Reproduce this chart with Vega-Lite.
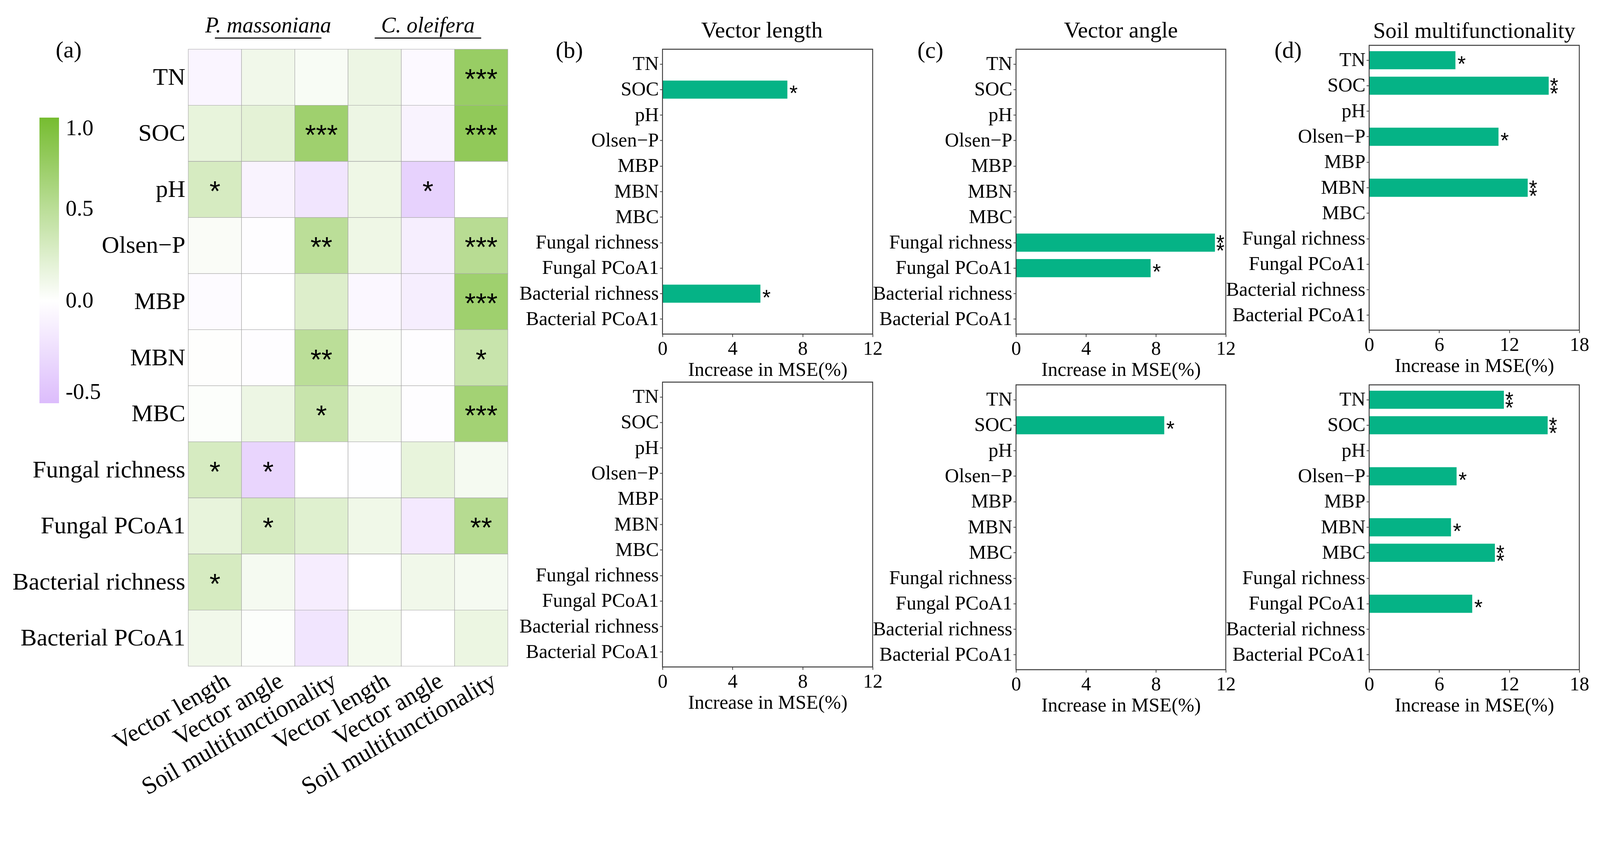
{
 "$schema": "https://vega.github.io/schema/vega-lite/v6.json",
 "autosize": {"type": "pad"},
 "padding": {"left": 31, "top": 37, "right": 0, "bottom": 0},
 "background": "white",
 "config": {
  "font": "Liberation Serif",
  "view": {"stroke": null},
  "axis": {"labelFont": "Liberation Serif", "titleFont": "Liberation Serif", "labelColor": "black", "titleColor": "black", "titleFontWeight": "normal", "grid": false},
  "title": {"font": "Liberation Serif", "fontWeight": "normal", "color": "black"}
 },
 "datasets": {
  "heat": [
   {"var":"TN","col":"PM: Vector length","r":-0.08,"sig":""},
   {"var":"TN","col":"PM: Vector angle","r":0.10,"sig":""},
   {"var":"TN","col":"PM: Soil multifunctionality","r":0.05,"sig":""},
   {"var":"TN","col":"CO: Vector length","r":0.13,"sig":""},
   {"var":"TN","col":"CO: Vector angle","r":-0.05,"sig":""},
   {"var":"TN","col":"CO: Soil multifunctionality","r":0.75,"sig":"***"},
   {"var":"SOC","col":"PM: Vector length","r":0.17,"sig":""},
   {"var":"SOC","col":"PM: Vector angle","r":0.2,"sig":""},
   {"var":"SOC","col":"PM: Soil multifunctionality","r":0.7,"sig":"***"},
   {"var":"SOC","col":"CO: Vector length","r":0.13,"sig":""},
   {"var":"SOC","col":"CO: Vector angle","r":-0.1,"sig":""},
   {"var":"SOC","col":"CO: Soil multifunctionality","r":0.8,"sig":"***"},
   {"var":"pH","col":"PM: Vector length","r":0.3,"sig":"*"},
   {"var":"pH","col":"PM: Vector angle","r":-0.1,"sig":""},
   {"var":"pH","col":"PM: Soil multifunctionality","r":-0.22,"sig":""},
   {"var":"pH","col":"CO: Vector length","r":0.12,"sig":""},
   {"var":"pH","col":"CO: Vector angle","r":-0.38,"sig":"*"},
   {"var":"pH","col":"CO: Soil multifunctionality","r":0.0,"sig":""},
   {"var":"Olsen−P","col":"PM: Vector length","r":0.04,"sig":""},
   {"var":"Olsen−P","col":"PM: Vector angle","r":-0.02,"sig":""},
   {"var":"Olsen−P","col":"PM: Soil multifunctionality","r":0.5,"sig":"**"},
   {"var":"Olsen−P","col":"CO: Vector length","r":0.12,"sig":""},
   {"var":"Olsen−P","col":"CO: Vector angle","r":-0.14,"sig":""},
   {"var":"Olsen−P","col":"CO: Soil multifunctionality","r":0.52,"sig":"***"},
   {"var":"MBP","col":"PM: Vector length","r":-0.03,"sig":""},
   {"var":"MBP","col":"PM: Vector angle","r":0.0,"sig":""},
   {"var":"MBP","col":"PM: Soil multifunctionality","r":0.25,"sig":""},
   {"var":"MBP","col":"CO: Vector length","r":-0.07,"sig":""},
   {"var":"MBP","col":"CO: Vector angle","r":-0.14,"sig":""},
   {"var":"MBP","col":"CO: Soil multifunctionality","r":0.7,"sig":"***"},
   {"var":"MBN","col":"PM: Vector length","r":0.01,"sig":""},
   {"var":"MBN","col":"PM: Vector angle","r":-0.02,"sig":""},
   {"var":"MBN","col":"PM: Soil multifunctionality","r":0.5,"sig":"**"},
   {"var":"MBN","col":"CO: Vector length","r":0.03,"sig":""},
   {"var":"MBN","col":"CO: Vector angle","r":-0.02,"sig":""},
   {"var":"MBN","col":"CO: Soil multifunctionality","r":0.4,"sig":"*"},
   {"var":"MBC","col":"PM: Vector length","r":0.02,"sig":""},
   {"var":"MBC","col":"PM: Vector angle","r":0.13,"sig":""},
   {"var":"MBC","col":"PM: Soil multifunctionality","r":0.4,"sig":"*"},
   {"var":"MBC","col":"CO: Vector length","r":0.08,"sig":""},
   {"var":"MBC","col":"CO: Vector angle","r":-0.02,"sig":""},
   {"var":"MBC","col":"CO: Soil multifunctionality","r":0.67,"sig":"***"},
   {"var":"Fungal richness","col":"PM: Vector length","r":0.3,"sig":"*"},
   {"var":"Fungal richness","col":"PM: Vector angle","r":-0.35,"sig":"*"},
   {"var":"Fungal richness","col":"PM: Soil multifunctionality","r":0.0,"sig":""},
   {"var":"Fungal richness","col":"CO: Vector length","r":-0.01,"sig":""},
   {"var":"Fungal richness","col":"CO: Vector angle","r":0.17,"sig":""},
   {"var":"Fungal richness","col":"CO: Soil multifunctionality","r":0.07,"sig":""},
   {"var":"Fungal PCoA1","col":"PM: Vector length","r":0.17,"sig":""},
   {"var":"Fungal PCoA1","col":"PM: Vector angle","r":0.3,"sig":"*"},
   {"var":"Fungal PCoA1","col":"PM: Soil multifunctionality","r":0.23,"sig":""},
   {"var":"Fungal PCoA1","col":"CO: Vector length","r":0.11,"sig":""},
   {"var":"Fungal PCoA1","col":"CO: Vector angle","r":-0.18,"sig":""},
   {"var":"Fungal PCoA1","col":"CO: Soil multifunctionality","r":0.53,"sig":"**"},
   {"var":"Bacterial richness","col":"PM: Vector length","r":0.3,"sig":"*"},
   {"var":"Bacterial richness","col":"PM: Vector angle","r":0.07,"sig":""},
   {"var":"Bacterial richness","col":"PM: Soil multifunctionality","r":-0.15,"sig":""},
   {"var":"Bacterial richness","col":"CO: Vector length","r":0.0,"sig":""},
   {"var":"Bacterial richness","col":"CO: Vector angle","r":0.1,"sig":""},
   {"var":"Bacterial richness","col":"CO: Soil multifunctionality","r":0.07,"sig":""},
   {"var":"Bacterial PCoA1","col":"PM: Vector length","r":0.1,"sig":""},
   {"var":"Bacterial PCoA1","col":"PM: Vector angle","r":0.02,"sig":""},
   {"var":"Bacterial PCoA1","col":"PM: Soil multifunctionality","r":-0.22,"sig":""},
   {"var":"Bacterial PCoA1","col":"CO: Vector length","r":0.08,"sig":""},
   {"var":"Bacterial PCoA1","col":"CO: Vector angle","r":0.0,"sig":""},
   {"var":"Bacterial PCoA1","col":"CO: Soil multifunctionality","r":0.14,"sig":""}
  ],
  "heads": [
   {"col":"PM: Vector angle","label":"P. massoniana"},
   {"col":"CO: Vector angle","label":"C. oleifera"}
  ],
  "lines": [
   {"col":"PM: Vector length","col2":"PM: Soil multifunctionality"},
   {"col":"CO: Vector length","col2":"CO: Soil multifunctionality"}
  ],
  "frame": [{"x0": 0, "x1": 1, "y0": 0, "y1": 1}],
  "bars": [
   {"panel":"b1","var":"SOC","value":7.13,"sig":"*"},
   {"panel":"b1","var":"Bacterial richness","value":5.59,"sig":"*"},
   {"panel":"c1","var":"Fungal richness","value":11.38,"sig":"**"},
   {"panel":"c1","var":"Fungal PCoA1","value":7.7,"sig":"*"},
   {"panel":"d1","var":"TN","value":7.39,"sig":"*"},
   {"panel":"d1","var":"SOC","value":15.38,"sig":"**"},
   {"panel":"d1","var":"Olsen−P","value":11.08,"sig":"*"},
   {"panel":"d1","var":"MBN","value":13.58,"sig":"**"},
   {"panel":"c2","var":"SOC","value":8.48,"sig":"*"},
   {"panel":"d2","var":"TN","value":11.54,"sig":"**"},
   {"panel":"d2","var":"SOC","value":15.29,"sig":"**"},
   {"panel":"d2","var":"Olsen−P","value":7.49,"sig":"*"},
   {"panel":"d2","var":"MBN","value":7.01,"sig":"*"},
   {"panel":"d2","var":"MBC","value":10.77,"sig":"**"},
   {"panel":"d2","var":"Fungal PCoA1","value":8.83,"sig":"*"}
  ]
 },
 "bounds": "flush",
 "spacing": 367,
 "hconcat": [
  {
   "width": 818, "height": 1579,
   "resolve": {"scale": {"y": "independent"}, "axis": {"y": "independent"}},
   "layer": [
    {
     "data": {"name": "heat"},
     "layer": [
      {
       "mark": {"type": "rect", "stroke": "#a6a6a6", "strokeWidth": 1.1},
       "encoding": {
        "x": {"field": "col", "type": "nominal", "scale": {"domain": ["PM: Vector length","PM: Vector angle","PM: Soil multifunctionality","CO: Vector length","CO: Vector angle","CO: Soil multifunctionality"], "paddingInner": 0, "paddingOuter": 0},
         "axis": {"orient": "bottom", "labelAngle": -30, "labelAlign": "right", "labelBaseline": "top", "labelFontSize": 62, "labelOffset": 18, "labelPadding": 6, "ticks": false, "domain": false, "title": null, "labelLimit": 0, "labelExpr": "split(datum.label, ': ')[1]"}},
        "y": {"field": "var", "type": "nominal", "scale": {"domain": ["TN","SOC","pH","Olsen−P","MBP","MBN","MBC","Fungal richness","Fungal PCoA1","Bacterial richness","Bacterial PCoA1"], "paddingInner": 0, "paddingOuter": 0},
         "axis": {"orient": "left", "ticks": false, "domain": false, "labelFontSize": 62, "labelPadding": 8, "labelLimit": 0, "title": "(a)", "titleAngle": 0, "titleX": -340, "titleY": 2, "titleAlign": "left", "titleBaseline": "middle", "titleFontSize": 60}},
        "color": {"field": "r", "type": "quantitative",
         "scale": {"domain": [-0.56, 0, 1], "range": ["#dcbcfc", "#ffffff", "#76bc30"], "interpolate": "rgb"},
         "legend": {"orient": "none", "legendX": -381, "legendY": 175, "direction": "vertical", "gradientLength": 731, "gradientThickness": 50, "values": [1, 0.5, 0, -0.5], "title": null, "labelFontSize": 57, "labelFont": "Liberation Serif", "labelOffset": 17, "labelBaseline": "middle", "labelColor": "black", "labelOverlap": false, "gradientStrokeWidth": 0, "labelExpr": "replace(format(datum.value, '.1f'), '−', '-')"}}
       }
      },
      {
       "mark": {"type": "text", "font": "Liberation Sans", "fontSize": 72, "baseline": "middle", "dy": 7},
       "encoding": {
        "x": {"field": "col", "type": "nominal", "scale": {"domain": ["PM: Vector length","PM: Vector angle","PM: Soil multifunctionality","CO: Vector length","CO: Vector angle","CO: Soil multifunctionality"]}},
        "y": {"field": "var", "type": "nominal", "scale": {"domain": ["TN","SOC","pH","Olsen−P","MBP","MBN","MBC","Fungal richness","Fungal PCoA1","Bacterial richness","Bacterial PCoA1"]}},
        "text": {"field": "sig"}
       }
      }
     ]
    },
    {
     "layer": [
      {
       "data": {"name": "heads"},
       "mark": {"type": "text", "font": "Liberation Serif", "fontStyle": "italic", "fontSize": 56, "baseline": "alphabetic", "align": "center"},
       "encoding": {
        "x": {"field": "col", "type": "nominal", "scale": {"domain": ["PM: Vector length","PM: Vector angle","PM: Soil multifunctionality","CO: Vector length","CO: Vector angle","CO: Soil multifunctionality"]}},
        "y": {"datum": 1.0275, "type": "quantitative", "scale": {"domain": [0, 1], "nice": false, "zero": false}, "axis": null},
        "text": {"field": "label"}
       }
      },
      {
       "data": {"name": "lines"},
       "mark": {"type": "rule", "strokeWidth": 2.8, "color": "black"},
       "encoding": {
        "x": {"field": "col", "type": "nominal", "scale": {"domain": ["PM: Vector length","PM: Vector angle","PM: Soil multifunctionality","CO: Vector length","CO: Vector angle","CO: Soil multifunctionality"]}},
        "x2": {"field": "col2"},
        "y": {"datum": 1.0181, "type": "quantitative", "scale": {"domain": [0, 1], "nice": false, "zero": false}, "axis": null}
       }
      }
     ]
    }
   ]
  },
  {
   "width": 567, "height": 1588,
   "title": {"text": "Vector length", "fontSize": 58, "baseline": "alphabetic", "offset": -55},
   "resolve": {"scale": {"x": "independent", "y": "independent"}, "axis": {"x": "independent", "y": "independent"}},
   "layer": [
    {
     "data": {"name": "bars"},
     "transform": [{"filter": "datum.panel == 'b1'"}],
     "encoding": {
      "y": {"field": "var", "type": "nominal", "scale": {"domain": ["TN","SOC","pH","Olsen−P","MBP","MBN","MBC","Fungal richness","Fungal PCoA1","Bacterial richness","Bacterial PCoA1"], "range": [0, 729], "paddingInner": 0.29, "paddingOuter": 0.23},
       "axis": {"orient": "left", "offset": -29, "title": "(b)", "titleAngle": 0, "titleX": -274, "titleY": 3, "titleAlign": "left", "titleBaseline": "middle", "titleFontSize": 60, "labelFontSize": 50, "tickSize": 7, "tickColor": "#333", "tickWidth": 1.85, "labelPadding": 3, "domain": false, "labelLimit": 0}},
      "x": {"field": "value", "type": "quantitative", "scale": {"domain": [0, 12], "range": [29, 567], "nice": false},
       "axis": {"orient": "bottom", "offset": -859, "values": [0, 4, 8, 12], "format": "d", "title": "Increase in MSE(%)", "labelFontSize": 50, "titleFontSize": 50, "tickSize": 7, "tickColor": "#333", "tickWidth": 1.85, "domain": false, "labelPadding": 5, "titlePadding": 4, "labelFlush": false}}
     },
     "layer": [
      {"mark": {"type": "bar", "color": "#05b386"}},
      {"transform": [{"filter": "datum.sig == '*'"}], "mark": {"type": "text", "text": "*", "font": "Liberation Sans", "fontSize": 55, "align": "left", "baseline": "middle", "dx": 5, "dy": 11}},
      {"transform": [{"filter": "datum.sig == '**'"}], "mark": {"type": "text", "text": "*", "font": "Liberation Sans", "fontSize": 55, "align": "left", "baseline": "middle", "dx": 3, "dy": 2}},
      {"transform": [{"filter": "datum.sig == '**'"}], "mark": {"type": "text", "text": "*", "font": "Liberation Sans", "fontSize": 55, "align": "left", "baseline": "middle", "dx": 3, "dy": 22}},
      {"data": {"values": [{"species": "P. massoniana"}]}, "mark": {"type": "text", "font": "Liberation Serif", "fontStyle": "italic", "fontSize": 56, "align": "center", "baseline": "middle"},
       "encoding": {"x": {"datum": 6}, "y": {"datum": "Bacterial PCoA1"}, "text": {"field": "species"}}}
     ]
    },
    {
     "data": {"name": "frame"},
     "mark": {"type": "rect", "fill": "transparent", "stroke": "#3a3a3a", "strokeWidth": 2.3},
     "encoding": {
      "x": {"field": "x0", "type": "quantitative", "scale": {"domain": [0, 1], "range": [29, 567], "nice": false, "zero": false}, "axis": null},
      "x2": {"field": "x1"},
      "y": {"field": "y0", "type": "quantitative", "scale": {"domain": [0, 1], "range": [0, 729], "nice": false, "zero": false}, "axis": null},
      "y2": {"field": "y1"}
     }
    },
    {
     "data": {"name": "bars"},
     "transform": [{"filter": "datum.panel == 'b2'"}],
     "encoding": {
      "y": {"field": "var", "type": "nominal", "scale": {"domain": ["TN","SOC","pH","Olsen−P","MBP","MBN","MBC","Fungal richness","Fungal PCoA1","Bacterial richness","Bacterial PCoA1"], "range": [852, 1581], "paddingInner": 0.29, "paddingOuter": 0.23},
       "axis": {"orient": "left", "offset": -29, "title": null, "labelFontSize": 50, "tickSize": 7, "tickColor": "#333", "tickWidth": 1.85, "labelPadding": 3, "domain": false, "labelLimit": 0}},
      "x": {"field": "value", "type": "quantitative", "scale": {"domain": [0, 12], "range": [29, 567], "nice": false},
       "axis": {"orient": "bottom", "offset": -7, "values": [0, 4, 8, 12], "format": "d", "title": "Increase in MSE(%)", "labelFontSize": 50, "titleFontSize": 50, "tickSize": 7, "tickColor": "#333", "tickWidth": 1.85, "domain": false, "labelPadding": 5, "titlePadding": 4, "labelFlush": false}}
     },
     "layer": [
      {"mark": {"type": "bar", "color": "#05b386"}},
      {"data": {"values": [{"species": "C. oleifera"}]}, "mark": {"type": "text", "font": "Liberation Serif", "fontStyle": "italic", "fontSize": 56, "align": "center", "baseline": "middle"},
       "encoding": {"x": {"datum": 6}, "y": {"datum": "Bacterial PCoA1"}, "text": {"field": "species"}}}
     ]
    },
    {
     "data": {"name": "frame"},
     "mark": {"type": "rect", "fill": "transparent", "stroke": "#3a3a3a", "strokeWidth": 2.3},
     "encoding": {
      "x": {"field": "x0", "type": "quantitative", "scale": {"domain": [0, 1], "range": [29, 567], "nice": false, "zero": false}, "axis": null},
      "x2": {"field": "x1"},
      "y": {"field": "y0", "type": "quantitative", "scale": {"domain": [0, 1], "range": [852, 1581], "nice": false, "zero": false}, "axis": null},
      "y2": {"field": "y1"}
     }
    }
   ]
  },
  {
   "width": 537, "height": 1588,
   "title": {"text": "Vector angle", "fontSize": 58, "baseline": "alphabetic", "offset": -55},
   "resolve": {"scale": {"x": "independent", "y": "independent"}, "axis": {"x": "independent", "y": "independent"}},
   "layer": [
    {
     "data": {"name": "bars"},
     "transform": [{"filter": "datum.panel == 'c1'"}],
     "encoding": {
      "y": {"field": "var", "type": "nominal", "scale": {"domain": ["TN","SOC","pH","Olsen−P","MBP","MBN","MBC","Fungal richness","Fungal PCoA1","Bacterial richness","Bacterial PCoA1"], "range": [0, 729], "paddingInner": 0.29, "paddingOuter": 0.23},
       "axis": {"orient": "left", "title": "(c)", "titleAngle": 0, "titleX": -253, "titleY": 3, "titleAlign": "left", "titleBaseline": "middle", "titleFontSize": 60, "labelFontSize": 50, "tickSize": 7, "tickColor": "#333", "tickWidth": 1.85, "labelPadding": 3, "domain": false, "labelLimit": 0}},
      "x": {"field": "value", "type": "quantitative", "scale": {"domain": [0, 12], "nice": false},
       "axis": {"orient": "bottom", "offset": -859, "values": [0, 4, 8, 12], "format": "d", "title": "Increase in MSE(%)", "labelFontSize": 50, "titleFontSize": 50, "tickSize": 7, "tickColor": "#333", "tickWidth": 1.85, "domain": false, "labelPadding": 5, "titlePadding": 4, "labelFlush": false}}
     },
     "layer": [
      {"mark": {"type": "bar", "color": "#05b386"}},
      {"transform": [{"filter": "datum.sig == '*'"}], "mark": {"type": "text", "text": "*", "font": "Liberation Sans", "fontSize": 55, "align": "left", "baseline": "middle", "dx": 5, "dy": 11}},
      {"transform": [{"filter": "datum.sig == '**'"}], "mark": {"type": "text", "text": "*", "font": "Liberation Sans", "fontSize": 55, "align": "left", "baseline": "middle", "dx": 3, "dy": 2}},
      {"transform": [{"filter": "datum.sig == '**'"}], "mark": {"type": "text", "text": "*", "font": "Liberation Sans", "fontSize": 55, "align": "left", "baseline": "middle", "dx": 3, "dy": 22}},
      {"data": {"values": [{"species": "P. massoniana"}]}, "mark": {"type": "text", "font": "Liberation Serif", "fontStyle": "italic", "fontSize": 56, "align": "center", "baseline": "middle"},
       "encoding": {"x": {"datum": 6}, "y": {"datum": "Bacterial PCoA1"}, "text": {"field": "species"}}}
     ]
    },
    {
     "data": {"name": "frame"},
     "mark": {"type": "rect", "fill": "transparent", "stroke": "#3a3a3a", "strokeWidth": 2.3},
     "encoding": {
      "x": {"field": "x0", "type": "quantitative", "scale": {"domain": [0, 1], "nice": false, "zero": false}, "axis": null},
      "x2": {"field": "x1"},
      "y": {"field": "y0", "type": "quantitative", "scale": {"domain": [0, 1], "range": [0, 729], "nice": false, "zero": false}, "axis": null},
      "y2": {"field": "y1"}
     }
    },
    {
     "data": {"name": "bars"},
     "transform": [{"filter": "datum.panel == 'c2'"}],
     "encoding": {
      "y": {"field": "var", "type": "nominal", "scale": {"domain": ["TN","SOC","pH","Olsen−P","MBP","MBN","MBC","Fungal richness","Fungal PCoA1","Bacterial richness","Bacterial PCoA1"], "range": [859, 1588], "paddingInner": 0.29, "paddingOuter": 0.23},
       "axis": {"orient": "left", "title": null, "labelFontSize": 50, "tickSize": 7, "tickColor": "#333", "tickWidth": 1.85, "labelPadding": 3, "domain": false, "labelLimit": 0}},
      "x": {"field": "value", "type": "quantitative", "scale": {"domain": [0, 12], "nice": false},
       "axis": {"orient": "bottom", "values": [0, 4, 8, 12], "format": "d", "title": "Increase in MSE(%)", "labelFontSize": 50, "titleFontSize": 50, "tickSize": 7, "tickColor": "#333", "tickWidth": 1.85, "domain": false, "labelPadding": 5, "titlePadding": 4, "labelFlush": false}}
     },
     "layer": [
      {"mark": {"type": "bar", "color": "#05b386"}},
      {"transform": [{"filter": "datum.sig == '*'"}], "mark": {"type": "text", "text": "*", "font": "Liberation Sans", "fontSize": 55, "align": "left", "baseline": "middle", "dx": 5, "dy": 11}},
      {"data": {"values": [{"species": "C. oleifera"}]}, "mark": {"type": "text", "font": "Liberation Serif", "fontStyle": "italic", "fontSize": 56, "align": "center", "baseline": "middle"},
       "encoding": {"x": {"datum": 6}, "y": {"datum": "Bacterial PCoA1"}, "text": {"field": "species"}}}
     ]
    },
    {
     "data": {"name": "frame"},
     "mark": {"type": "rect", "fill": "transparent", "stroke": "#3a3a3a", "strokeWidth": 2.3},
     "encoding": {
      "x": {"field": "x0", "type": "quantitative", "scale": {"domain": [0, 1], "nice": false, "zero": false}, "axis": null},
      "x2": {"field": "x1"},
      "y": {"field": "y0", "type": "quantitative", "scale": {"domain": [0, 1], "range": [859, 1588], "nice": false, "zero": false}, "axis": null},
      "y2": {"field": "y1"}
     }
    }
   ]
  },
  {
   "width": 538, "height": 1588,
   "title": {"text": "Soil multifunctionality", "fontSize": 57, "baseline": "alphabetic", "offset": -55},
   "resolve": {"scale": {"x": "independent", "y": "independent"}, "axis": {"x": "independent", "y": "independent"}},
   "layer": [
    {
     "data": {"name": "bars"},
     "transform": [{"filter": "datum.panel == 'd1'"}],
     "encoding": {
      "y": {"field": "var", "type": "nominal", "scale": {"domain": ["TN","SOC","pH","Olsen−P","MBP","MBN","MBC","Fungal richness","Fungal PCoA1","Bacterial richness","Bacterial PCoA1"], "range": [-10, 719], "paddingInner": 0.29, "paddingOuter": 0.23},
       "axis": {"orient": "left", "title": "(d)", "titleAngle": 0, "titleX": -243, "titleY": 3, "titleAlign": "left", "titleBaseline": "middle", "titleFontSize": 60, "labelFontSize": 50, "tickSize": 7, "tickColor": "#333", "tickWidth": 1.85, "labelPadding": 3, "domain": false, "labelLimit": 0}},
      "x": {"field": "value", "type": "quantitative", "scale": {"domain": [0, 18], "nice": false},
       "axis": {"orient": "bottom", "offset": -869, "values": [0, 6, 12, 18], "format": "d", "title": "Increase in MSE(%)", "labelFontSize": 50, "titleFontSize": 50, "tickSize": 7, "tickColor": "#333", "tickWidth": 1.85, "domain": false, "labelPadding": 5, "titlePadding": 4, "labelFlush": false}}
     },
     "layer": [
      {"mark": {"type": "bar", "color": "#05b386"}},
      {"transform": [{"filter": "datum.sig == '*'"}], "mark": {"type": "text", "text": "*", "font": "Liberation Sans", "fontSize": 55, "align": "left", "baseline": "middle", "dx": 5, "dy": 11}},
      {"transform": [{"filter": "datum.sig == '**'"}], "mark": {"type": "text", "text": "*", "font": "Liberation Sans", "fontSize": 55, "align": "left", "baseline": "middle", "dx": 3, "dy": 2}},
      {"transform": [{"filter": "datum.sig == '**'"}], "mark": {"type": "text", "text": "*", "font": "Liberation Sans", "fontSize": 55, "align": "left", "baseline": "middle", "dx": 3, "dy": 22}},
      {"data": {"values": [{"species": "P. massoniana"}]}, "mark": {"type": "text", "font": "Liberation Serif", "fontStyle": "italic", "fontSize": 56, "align": "center", "baseline": "middle"},
       "encoding": {"x": {"datum": 9}, "y": {"datum": "Bacterial PCoA1"}, "text": {"field": "species"}}}
     ]
    },
    {
     "data": {"name": "frame"},
     "mark": {"type": "rect", "fill": "transparent", "stroke": "#3a3a3a", "strokeWidth": 2.3},
     "encoding": {
      "x": {"field": "x0", "type": "quantitative", "scale": {"domain": [0, 1], "nice": false, "zero": false}, "axis": null},
      "x2": {"field": "x1"},
      "y": {"field": "y0", "type": "quantitative", "scale": {"domain": [0, 1], "range": [-10, 719], "nice": false, "zero": false}, "axis": null},
      "y2": {"field": "y1"}
     }
    },
    {
     "data": {"name": "bars"},
     "transform": [{"filter": "datum.panel == 'd2'"}],
     "encoding": {
      "y": {"field": "var", "type": "nominal", "scale": {"domain": ["TN","SOC","pH","Olsen−P","MBP","MBN","MBC","Fungal richness","Fungal PCoA1","Bacterial richness","Bacterial PCoA1"], "range": [859, 1588], "paddingInner": 0.29, "paddingOuter": 0.23},
       "axis": {"orient": "left", "title": null, "labelFontSize": 50, "tickSize": 7, "tickColor": "#333", "tickWidth": 1.85, "labelPadding": 3, "domain": false, "labelLimit": 0}},
      "x": {"field": "value", "type": "quantitative", "scale": {"domain": [0, 18], "nice": false},
       "axis": {"orient": "bottom", "values": [0, 6, 12, 18], "format": "d", "title": "Increase in MSE(%)", "labelFontSize": 50, "titleFontSize": 50, "tickSize": 7, "tickColor": "#333", "tickWidth": 1.85, "domain": false, "labelPadding": 5, "titlePadding": 4, "labelFlush": false}}
     },
     "layer": [
      {"mark": {"type": "bar", "color": "#05b386"}},
      {"transform": [{"filter": "datum.sig == '*'"}], "mark": {"type": "text", "text": "*", "font": "Liberation Sans", "fontSize": 55, "align": "left", "baseline": "middle", "dx": 5, "dy": 11}},
      {"transform": [{"filter": "datum.sig == '**'"}], "mark": {"type": "text", "text": "*", "font": "Liberation Sans", "fontSize": 55, "align": "left", "baseline": "middle", "dx": 3, "dy": 2}},
      {"transform": [{"filter": "datum.sig == '**'"}], "mark": {"type": "text", "text": "*", "font": "Liberation Sans", "fontSize": 55, "align": "left", "baseline": "middle", "dx": 3, "dy": 22}},
      {"data": {"values": [{"species": "C. oleifera"}]}, "mark": {"type": "text", "font": "Liberation Serif", "fontStyle": "italic", "fontSize": 56, "align": "center", "baseline": "middle"},
       "encoding": {"x": {"datum": 9}, "y": {"datum": "Bacterial PCoA1"}, "text": {"field": "species"}}}
     ]
    },
    {
     "data": {"name": "frame"},
     "mark": {"type": "rect", "fill": "transparent", "stroke": "#3a3a3a", "strokeWidth": 2.3},
     "encoding": {
      "x": {"field": "x0", "type": "quantitative", "scale": {"domain": [0, 1], "nice": false, "zero": false}, "axis": null},
      "x2": {"field": "x1"},
      "y": {"field": "y0", "type": "quantitative", "scale": {"domain": [0, 1], "range": [859, 1588], "nice": false, "zero": false}, "axis": null},
      "y2": {"field": "y1"}
     }
    }
   ]
  }
 ]
}
